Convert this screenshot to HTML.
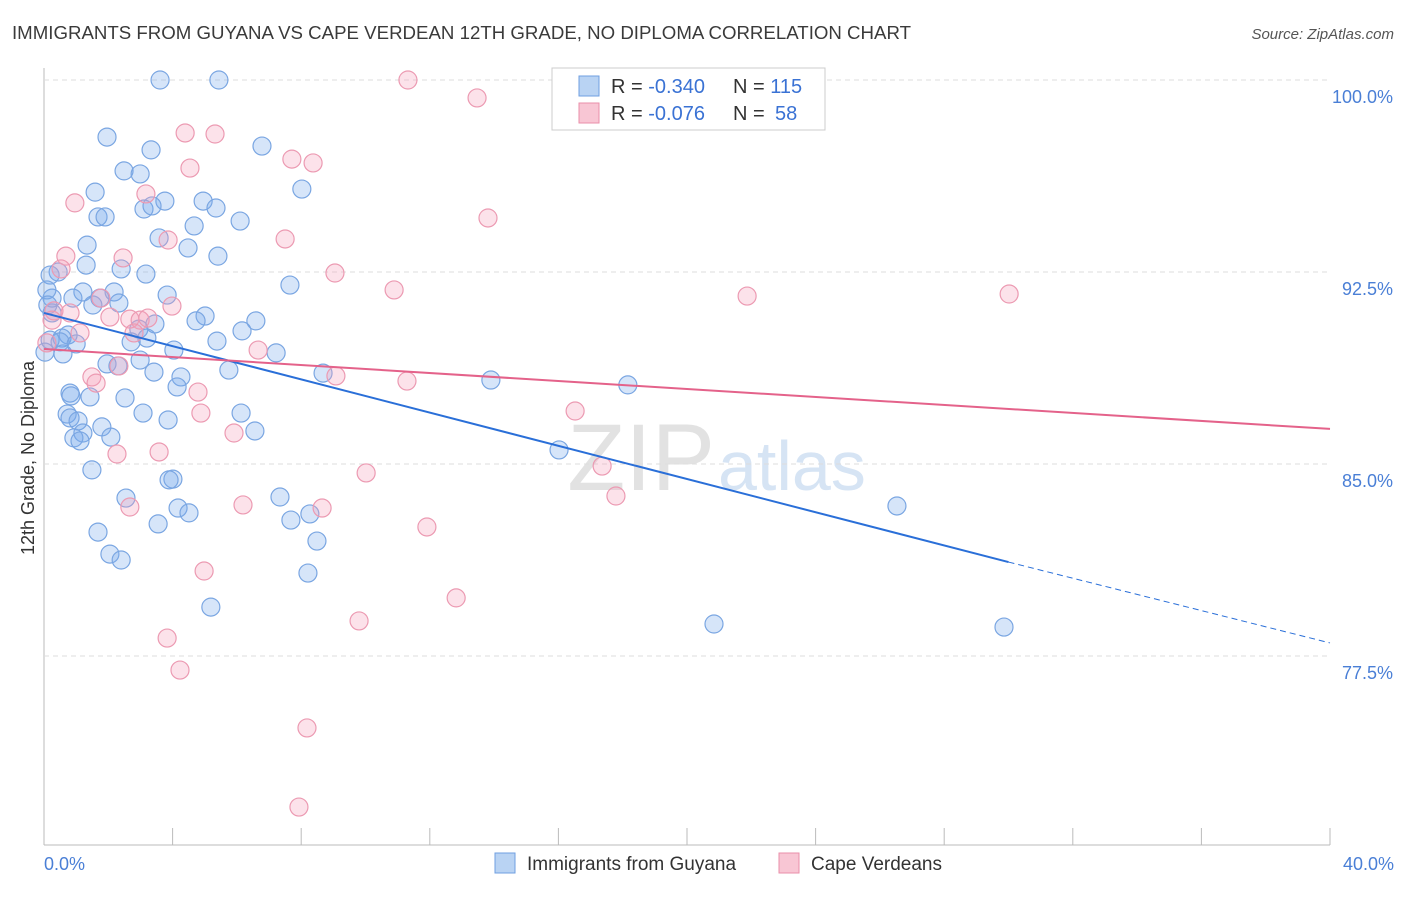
<!DOCTYPE html>
<html><head><meta charset="utf-8"><style>
body{margin:0;background:#fff;font-family:"Liberation Sans",sans-serif;}
svg text{font-family:"Liberation Sans",sans-serif;}
</style></head><body>
<svg id="chart" width="1406" height="892" xmlns="http://www.w3.org/2000/svg">
<text x="12" y="39" font-size="18" fill="#3a3a3a" textLength="899" lengthAdjust="spacingAndGlyphs">IMMIGRANTS FROM GUYANA VS CAPE VERDEAN 12TH GRADE, NO DIPLOMA CORRELATION CHART</text>
<text x="1394" y="39" font-size="15" fill="#555" font-style="italic" text-anchor="end">Source: ZipAtlas.com</text>
<text x="715" y="490" font-size="95" fill="#e2e2e2" text-anchor="end" font-family="Liberation Serif">ZIP</text>
<text x="718" y="490" font-size="70" fill="#d6e4f4">atlas</text>
<text transform="translate(34,458) rotate(-90)" font-size="18" fill="#333" text-anchor="middle">12th Grade, No Diploma</text>
<g id="grid"></g><g id="pts"></g><g id="lines"></g>
<g>
<rect x="552" y="68" width="273" height="62" fill="#fff" stroke="#ccc"/>
<rect x="579" y="76" width="20" height="20" fill="#b9d3f3" stroke="#6f9fe0"/>
<rect x="579" y="103" width="20" height="20" fill="#f8c6d4" stroke="#ea8faa"/>
<text x="611" y="93" font-size="20" fill="#333">R = <tspan fill="#3a72d4">-0.340</tspan><tspan x="733">N = </tspan><tspan fill="#3a72d4">115</tspan></text>
<text x="611" y="120" font-size="20" fill="#333">R = <tspan fill="#3a72d4">-0.076</tspan><tspan x="733">N = </tspan><tspan fill="#3a72d4" x="775">58</tspan></text>
</g>
<g>
<rect x="495" y="853" width="20" height="20" fill="#b9d3f3" stroke="#6f9fe0"/>
<text x="527" y="870" font-size="19" fill="#333">Immigrants from Guyana</text>
<rect x="779" y="853" width="20" height="20" fill="#f8c6d4" stroke="#ea8faa"/>
<text x="811" y="870" font-size="19" fill="#333">Cape Verdeans</text>
</g>
</svg>
<script>
const yTicks=[100,92.5,85,77.5];
const yTickLabels=["100.0%","92.5%","85.0%","77.5%"];
const xTickLabels=["0.0%","40.0%"];
const blueX=[3.61,5.44,1.96,6.78,3.33,2.49,2.99,8.02,1.59,4.95,3.76,3.11,3.36,5.35,1.68,1.90,6.10,4.67,3.58,1.34,4.48,5.41,1.31,2.40,3.17,0.44,0.19,7.65,2.18,3.83,1.21,0.25,1.74,0.90,2.33,1.52,5.01,4.73,6.59,0.25,3.45,6.16,2.95,0.75,0.56,3.20,5.38,2.71,0.50,1.00,4.04,0.59,7.22,1.96,2.99,2.30,3.42,5.75,8.68,4.26,4.14,13.90,18.16,0.81,0.84,2.52,1.43,6.13,3.08,3.86,0.72,0.81,1.06,1.80,1.21,2.08,0.93,6.56,1.12,16.02,1.49,4.01,3.89,2.55,7.34,4.17,4.51,8.27,7.68,3.55,1.68,8.49,2.05,2.40,8.21,5.19,20.84,29.86,26.53,0.19,0.03,0.09,0.12];
const blueY=[100,100,97.77,97.42,97.27,96.45,96.33,95.74,95.62,95.27,95.27,94.96,95.08,95.0,94.65,94.65,94.49,94.30,93.83,93.55,93.44,93.12,92.77,92.62,92.42,92.5,92.38,91.99,91.72,91.60,91.72,91.48,91.48,91.48,91.29,91.21,90.78,90.59,90.59,90.90,90.47,90.20,90.27,90.04,89.92,89.92,89.80,89.77,89.77,89.69,89.45,89.30,89.34,88.91,89.06,88.83,88.59,88.67,88.55,88.40,88.01,88.28,88.09,87.77,87.66,87.58,87.62,86.99,86.99,86.72,86.95,86.80,86.68,86.45,86.21,86.05,86.02,86.29,85.90,85.55,84.77,84.41,84.38,83.67,83.71,83.28,83.09,83.05,82.81,82.66,82.34,81.99,81.48,81.25,80.74,79.41,78.75,78.63,83.36,89.84,89.37,91.80,91.21];
const pinkX=[11.32,13.47,4.39,5.32,7.71,8.37,4.54,3.17,0.96,13.81,7.50,3.86,0.68,2.46,0.53,9.05,10.89,21.87,30.02,1.77,3.98,0.31,0.81,2.05,2.67,2.99,3.23,2.80,1.12,6.66,2.33,1.49,1.62,9.08,11.29,4.79,4.88,5.91,16.52,2.27,3.58,10.02,17.36,2.67,6.19,8.65,17.79,11.91,4.98,12.82,9.80,3.83,4.23,8.18,7.93,0.25,0.09];
const pinkY=[100,99.30,97.93,97.89,96.91,96.76,96.56,95.55,95.20,94.61,93.79,93.75,93.12,93.05,92.62,92.46,91.80,91.56,91.64,91.48,91.17,90.98,90.90,90.74,90.66,90.62,90.70,90.12,90.12,89.45,88.83,88.40,88.16,88.44,88.24,87.81,86.99,86.21,87.07,85.39,85.47,84.65,84.92,83.32,83.40,83.28,83.75,82.54,80.82,79.77,78.87,78.20,76.95,74.69,71.60,90.62,89.73];
const blueTrend=[90.90,81.17,78.01]; // at x=0, 30, 40
const pinkTrend=[89.49,86.37]; // at x=0, 40
const xs=v=>44+v*32.15, ys=v=>80+(100-v)*25.6;
const NS="http://www.w3.org/2000/svg";
function mk(tag,attrs,parent){const e=document.createElementNS(NS,tag);for(const k in attrs)e.setAttribute(k,attrs[k]);parent.appendChild(e);return e;}
const svg=document.getElementById('chart'),grid=document.getElementById('grid'),pts=document.getElementById('pts'),lines=document.getElementById('lines');
let e=mk('line',{x1:44,y1:68,x2:44,y2:845,stroke:'#bbb'},grid);


e=mk('line',{x1:44,y1:845,x2:1330,y2:845,stroke:'#bbb'},grid);


yTicks.forEach((t,i)=>{
 const g=mk('line',{x1:44,y1:ys(t),x2:1330,y2:ys(t),stroke:'#ddd','stroke-dasharray':'5,4'},grid);
 
 
 const l=mk('text',{x:1393,y:ys(t)+23,'font-size':18,fill:'#4a7fd6','text-anchor':'end'},grid);l.textContent=yTickLabels[i];
 
 
});
for(let i=0;i<=10;i++){const tk=mk('line',{x1:xs(i*4),y1:828,x2:xs(i*4),y2:845,stroke:'#bbb'},grid);
 
 }
xTickLabels.forEach((s,i)=>{const l=mk('text',{x:i?1394:44,y:870,'font-size':18,fill:'#4a7fd6','text-anchor':i?'end':'start'},grid);l.textContent=s;
 
 });
blueX.forEach((v,i)=>{const c=mk('circle',{cx:xs(v),cy:ys(blueY[i]),r:9,fill:'rgba(120,170,235,0.3)',stroke:'#7aa6e2','stroke-width':1.2},pts);
 
 });
pinkX.forEach((v,i)=>{const c=mk('circle',{cx:xs(v),cy:ys(pinkY[i]),r:9,fill:'rgba(245,160,185,0.3)',stroke:'#ec9ab2','stroke-width':1.2},pts);
 
 });
e=mk('line',{x1:xs(0),y1:ys(blueTrend[0]),x2:xs(30),y2:ys(blueTrend[1]),stroke:'#2a6fd8','stroke-width':2},lines);


e=mk('line',{x1:xs(30),y1:ys(blueTrend[1]),x2:xs(40),y2:ys(blueTrend[2]),stroke:'#2a6fd8','stroke-width':1,'stroke-dasharray':'6,4'},lines);


e=mk('line',{x1:xs(0),y1:ys(pinkTrend[0]),x2:xs(40),y2:ys(pinkTrend[1]),stroke:'#e4628a','stroke-width':2},lines);


</script>
</body></html>
